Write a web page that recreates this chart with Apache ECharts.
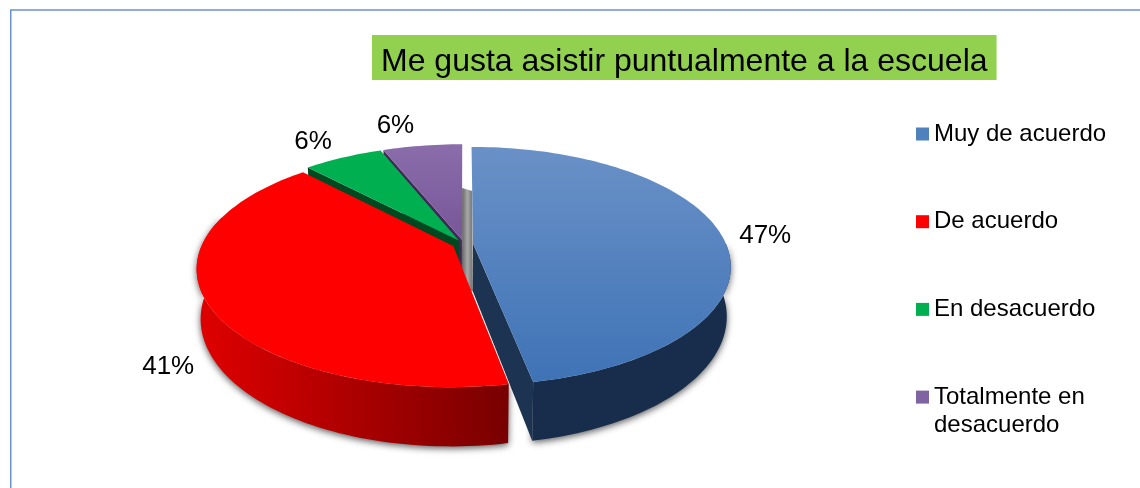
<!DOCTYPE html>
<html>
<head>
<meta charset="utf-8">
<style>html,body{margin:0;padding:0;background:#fff}#c{width:1140px;height:488px}</style>
<script src="https://cdn.jsdelivr.net/npm/echarts@6/dist/echarts.min.js"></script>
</head>
<body>
<div id="c"></div>
<script>
const titleText = 'Me gusta asistir puntualmente a la escuela';
const categories = ['Muy de acuerdo', 'De acuerdo', 'En desacuerdo', 'Totalmente en desacuerdo'];
const percentages = [47, 41, 6, 6];

const FONT = '"Liberation Sans", Arial, sans-serif';
const LG = echarts.graphic.LinearGradient;
const cx = 463.7, cy = 244, rx = 253, ry = 115, k = 0.188, depth = 48, taper = 0.985, explode = 0.037;
const total = percentages.reduce((a, b) => a + b, 0);
const starts = percentages.map((_, i) => percentages.slice(0, i).reduce((a, b) => a + b, 0) / total * 360);

const looks = [
  { color: '#4f81bd', top: ['#6a91c7', '#3f73b6'], side: ['#1e3a5f', '#182c4b'], wall: '#1c3352', from: 90, shift: 0, reach: 1 },
  { color: '#ff0000', top: ['#ff0000', '#ff0000'], side: ['#e00000', '#780000'], wall: '#7a0000', to: 285, shift: -0.008, reach: 0.992 },
  { color: '#00b050', top: ['#00b050', '#00b050'], wall: '#00481f', shift: 0, reach: 1 },
  { color: '#8064a2', top: ['#8a6daa', '#785699'], wall: '#3d2b55', shift: 0, reach: 1 }
];
const labelNudge = [[45, 3], [-39, 64], [-30, -16], [-27, -20]];

function rad(d) { return d * Math.PI / 180; }
function project(theta, r, off, low) {
  const u = off[0] + r * Math.sin(rad(theta));
  const v = off[1] + r * Math.cos(rad(theta));
  const s = 1 / (1 + k * v);
  let X = cx + rx * u * s, Y = cy - ry * v * s;
  if (low) { X = cx + (X - cx) * taper; Y += depth * s; }
  return [X, Y];
}
function arc(a, b, off, low, reach) {
  const pts = [], n = Math.max(2, Math.ceil(Math.abs(b - a) / 1.5));
  for (let i = 0; i <= n; i++) pts.push(project(a + (b - a) * i / n, reach, off, low));
  return pts;
}
function poly(points, fill, extra) {
  return { type: 'polygon', shape: { points }, style: Object.assign({ fill }, extra || {}) };
}

function sliceRender(i) {
  return function (params, api) {
    const value = api.value(0);
    const a = starts[i], b = a + value / total * 360, mid = (a + b) / 2;
    const look = looks[i], kids = [];
    const off = [explode * Math.sin(rad(mid)) + look.shift, explode * Math.cos(rad(mid))];
    const apex = project(0, 0, off), apexLow = project(0, 0, off, true);
    const shadow = { shadowBlur: 7, shadowColor: 'rgba(0,0,0,0.65)', shadowOffsetY: 2 };

    if (i === 3) {
      const blueMid = percentages[0] / total * 180;
      const bo = [explode * Math.sin(rad(blueMid)), explode * Math.cos(rad(blueMid))];
      kids.push(poly([
        project(b, 0.5, off), project(0, 0.5, bo), project(0, 0, bo, true), apexLow
      ], new LG(0, 0, 1, 0, [
        { offset: 0, color: '#666666' }, { offset: 0.5, color: '#a8a8a8' }, { offset: 1, color: '#707070' }
      ])));
    }
    if (look.side) {
      const s0 = look.from !== undefined ? look.from : a;
      const s1 = look.to !== undefined ? look.to : b;
      kids.push(poly(arc(s0, s1, off, false, look.reach).concat(arc(s1, s0, off, true, look.reach)),
        new LG(0, 0, 1, 0, look.to !== undefined
          ? [{ offset: 0, color: look.side[0] }, { offset: 1, color: look.side[1] }]
          : [{ offset: 0, color: look.side[1] }, { offset: 1, color: look.side[1] }]), shadow));
    }
    const wallAngle = i === 0 ? b : a;
    if (i !== 1) {
      kids.push(poly([apex, project(wallAngle, 1, off), project(wallAngle, 1, off, true), apexLow], look.wall));
    }
    kids.push(poly([apex].concat(arc(a, b, off, false, look.reach)), new LG(0, 0, 0, 1, [
      { offset: 0, color: look.top[0] }, { offset: 1, color: look.top[1] }
    ])));
    const rim = project(mid, look.reach, off);
    kids.push({
      type: 'text', z2: 50,
      style: {
        text: value + '%', x: rim[0] + labelNudge[i][0], y: rim[1] + labelNudge[i][1],
        fill: '#000', fontSize: 26, fontFamily: FONT, textAlign: 'center', textVerticalAlign: 'middle'
      }
    });
    return { type: 'group', children: kids };
  };
}

const paintOrder = { 3: 2, 2: 3, 0: 4, 1: 5 };
const series = [3, 2, 0, 1].map(i => ({
  type: 'custom', name: categories[i], coordinateSystem: 'none', z: paintOrder[i],
  silent: true, clip: false, itemStyle: { color: looks[i].color },
  data: [[percentages[i]]], renderItem: sliceRender(i)
}));

const chart = echarts.init(document.getElementById('c'), null, { renderer: 'canvas' });
chart.setOption({
  animation: false,
  backgroundColor: '#ffffff',
  title: {
    text: titleText, left: 372, top: 35, backgroundColor: '#92d050',
    padding: [11, 9, 2, 9],
    textStyle: { color: '#000', fontSize: 32, fontWeight: 'normal', fontFamily: FONT }
  },
  legend: {
    data: categories, orient: 'vertical', left: 916, top: 122, padding: 0,
    itemWidth: 13, itemHeight: 13, itemGap: 63.7, selectedMode: false,
    icon: 'rect',
    formatter: n => n.split(' desacuerdo')[0] === 'Totalmente en' ? 'Totalmente en' : n,
    textStyle: { color: '#000', fontSize: 24, fontFamily: FONT }
  },
  graphic: [
    { type: 'rect', z: 0, shape: { x: 10.75, y: 10, width: 1300, height: 800 },
      style: { fill: 'none', stroke: '#6a93cb', lineWidth: 1.5 } },
    { type: 'text', z: 10, style: { text: 'desacuerdo', x: 934, y: 425, fill: '#000', fontSize: 24,
      fontFamily: FONT, textVerticalAlign: 'middle' } }
  ],
  series
});
</script>
</body>
</html>
